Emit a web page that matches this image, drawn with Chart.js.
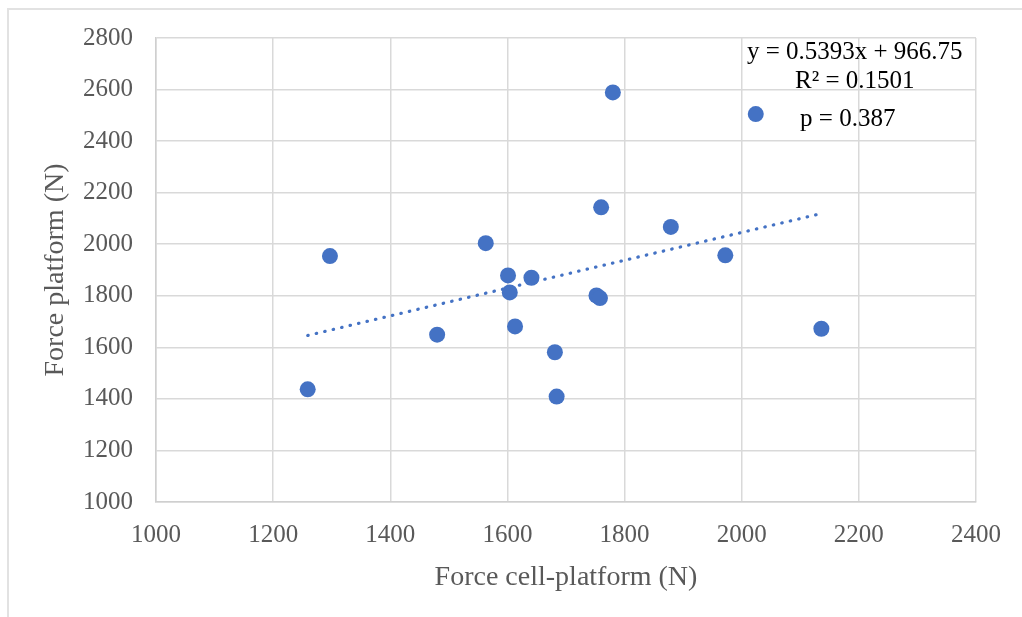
<!DOCTYPE html>
<html>
<head>
<meta charset="utf-8">
<script src="https://cdn.jsdelivr.net/npm/chart.js@4"></script>
<style>
  html, body { margin: 0; padding: 0; background: #fff; }
  #wrap { position: relative; width: 1022px; height: 617px; }
  #frame { position: absolute; left: 7px; top: 8px; right: 0; bottom: 0;
           border-left: 2px solid #e2e2e2; border-top: 2px solid #e2e2e2; pointer-events: none; }
</style>
</head>
<body>
<div id="wrap">
  <canvas id="myChart" width="1022" height="617"></canvas>
  <div id="frame"></div>
</div>
<script>
// values
const forceCell = [1259, 1297, 1480, 1563, 1601, 1604, 1613, 1641, 1681, 1684, 1752, 1758, 1760, 1780, 1879, 1972, 2024, 2136];
const forcePlatform = [1437, 1954, 1649, 2004, 1879, 1813, 1681, 1870, 1581, 1409, 1801, 1791, 2143, 2589, 2067, 1957, 2505, 1672];

// trendline end points (as drawn)
const trendX = [1259, 2136];
const trendY = [1646, 2119];

// text box in the top right corner
const noteLines = ['y = 0.5393x + 966.75', 'R\u00b2 = 0.1501', 'p = 0.387'];
const noteX = [2193, 2193, 2181];
const noteY = [2720, 2607, 2460];

const serif = "'Liberation Serif', 'Times New Roman', serif";
const grey = '#595959';

const notes = {
  id: 'notes',
  afterDatasetsDraw(chart) {
    const ctx = chart.ctx;
    const xs = chart.scales.x;
    const ys = chart.scales.y;
    ctx.save();
    ctx.fillStyle = '#000';
    ctx.font = '25px ' + serif;
    ctx.textAlign = 'center';
    ctx.textBaseline = 'alphabetic';
    for (let i = 0; i < noteLines.length; i++) {
      ctx.fillText(noteLines[i], xs.getPixelForValue(noteX[i]), ys.getPixelForValue(noteY[i]));
    }
    ctx.restore();
  }
};

const ctx = document.getElementById('myChart');

new Chart(ctx, {
  type: 'scatter',
  data: {
    datasets: [{
      label: 'Force',
      data: forceCell.map((v, i) => ({ x: v, y: forcePlatform[i] })),
      backgroundColor: '#4472C4',
      borderWidth: 0,
      pointRadius: 8,
      pointHoverRadius: 8
    }, {
      type: 'line',
      label: 'Trend',
      data: trendX.map((v, i) => ({ x: v, y: trendY[i] })),
      borderColor: '#4472C4',
      borderWidth: 3.2,
      borderDash: [0.5, 8.2],
      borderCapStyle: 'round',
      pointRadius: 0,
      fill: false
    }]
  },
  options: {
    responsive: false,
    animation: false,
    events: [],
    layout: { padding: { left: 0, top: 37, right: 46, bottom: 0 } },
    plugins: {
      legend: { display: false },
      tooltip: { enabled: false }
    },
    scales: {
      x: {
        type: 'linear',
        min: 1000,
        max: 2400,
        ticks: { stepSize: 200, padding: 18, color: grey, font: { family: serif, size: 25 },
                 callback: (value) => String(value) },
        grid: { color: '#d9d9d9', lineWidth: 1.5, drawTicks: false },
        border: { color: '#cfcfcf', width: 1.5 },
        title: { display: true, text: 'Force cell-platform (N)', color: grey,
                 font: { family: serif, size: 28 }, padding: { top: 0, bottom: 23 } },
        afterFit: (scale) => { scale.height = 115; }
      },
      y: {
        type: 'linear',
        min: 1000,
        max: 2800,
        ticks: { stepSize: 200, padding: 23, color: grey, font: { family: serif, size: 25 },
                 callback: (value) => String(value) },
        grid: { color: '#d9d9d9', lineWidth: 1.5, drawTicks: false },
        border: { color: '#cfcfcf', width: 1.5 },
        title: { display: true, text: 'Force platform (N)', color: grey,
                 font: { family: serif, size: 28 }, padding: { top: 39, bottom: 0 } },
        afterFit: (scale) => { scale.width = 156; }
      }
    }
  },
  plugins: [notes]
});
</script>
</body>
</html>
